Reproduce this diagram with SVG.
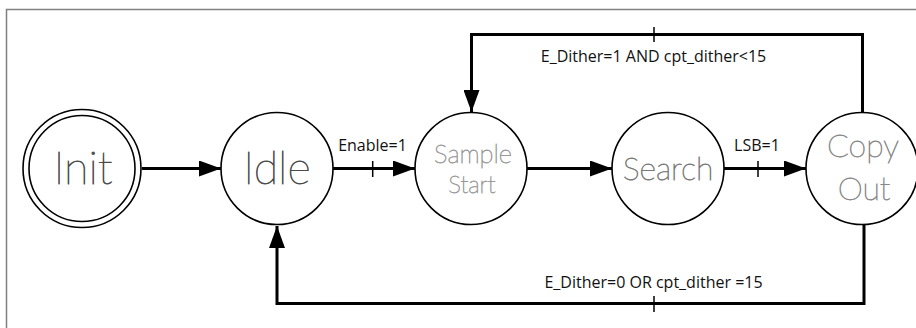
<svg xmlns="http://www.w3.org/2000/svg" width="916" height="328" viewBox="0 0 916 328">
  <style>
    .frame { fill: none; stroke: #808080; stroke-width: 1.5; }
    .state { fill: #ffffff; stroke: #000000; stroke-width: 1.6; }
    .wire { fill: none; stroke: #000000; stroke-width: 3; }
    .tick { stroke: #000000; stroke-width: 1.5; }
    .name { font-family: Lato, "Open Sans", sans-serif; font-weight: 100; text-anchor: middle; stroke-width: 0.8; }
    .dark { fill: #4a4a4a; stroke: #4a4a4a; }
    .cond { font-family: "Open Sans", Lato, sans-serif; font-weight: 500; font-size: 16px; fill: #111111; text-anchor: middle; }
  </style>
  <defs>
    <marker id="head" viewBox="0 0 22 16" refX="22" refY="8" markerWidth="22" markerHeight="16" markerUnits="userSpaceOnUse" orient="auto">
      <path d="M0,0 L22,8 L0,16 Z" fill="#000000"/>
    </marker>
  </defs>

  <rect width="916" height="328" fill="#ffffff"/>
  <path class="frame" d="M6.5,330 V9.5 H918"/>

  <g id="connectors">
    <line class="wire" x1="142" y1="168.5" x2="221" y2="168.5" marker-end="url(#head)"/>
    <line class="wire" x1="333" y1="168.5" x2="415" y2="168.5" marker-end="url(#head)"/>
    <line class="tick" x1="372.7" y1="161" x2="372.7" y2="177"/>
    <line class="wire" x1="527" y1="168.5" x2="612" y2="168.5" marker-end="url(#head)"/>
    <line class="wire" x1="723" y1="168.5" x2="806" y2="168.5" marker-end="url(#head)"/>
    <line class="tick" x1="758" y1="161" x2="758" y2="177"/>
    <path class="wire" d="M862.5,113 V34.5 H471.5 V112" marker-end="url(#head)"/>
    <line class="tick" x1="654" y1="27" x2="654" y2="42"/>
    <path class="wire" d="M864,225 V303.5 H277 V226" marker-end="url(#head)"/>
    <line class="tick" x1="654" y1="296" x2="654" y2="312"/>
    <text class="cond" x="372.5" y="151">Enable=1</text>
    <text class="cond" x="757" y="151">LSB=1</text>
    <text class="cond" x="653.5" y="61.5">E_Dither=1 AND cpt_dither&lt;15</text>
    <text class="cond" x="653.5" y="287.5">E_Dither=0 OR cpt_dither =15</text>
  </g>

  <g id="init">
    <circle class="state" cx="82" cy="168.5" r="59" stroke-width="2"/>
    <circle class="state" cx="82" cy="168.5" r="53" stroke-width="2"/>
    <text class="name dark" x="83" y="184" font-size="45">Init</text>
  </g>
  <g id="idle">
    <circle class="state" cx="277" cy="168.5" r="56"/>
    <text class="name dark" x="277" y="184" font-size="45">Idle</text>
  </g>
  <g id="sample-start">
    <circle class="state" cx="471" cy="168.5" r="56"/>
    <text class="name" x="473" y="163" font-size="25.5" fill="#999999" stroke="#999999">Sample</text>
    <text class="name" x="472" y="193" font-size="24" fill="#999999" stroke="#999999">Start</text>
  </g>
  <g id="search">
    <circle class="state" cx="668" cy="168.5" r="56"/>
    <text class="name" x="668" y="180" font-size="32" fill="#777777" stroke="#777777">Search</text>
  </g>
  <g id="copy-out">
    <circle class="state" cx="862" cy="168.5" r="56"/>
    <text class="name" x="863" y="157" font-size="32" fill="#888888" stroke="#888888">Copy</text>
    <text class="name" x="864" y="200" font-size="32" fill="#888888" stroke="#888888">Out</text>
  </g>
</svg>
